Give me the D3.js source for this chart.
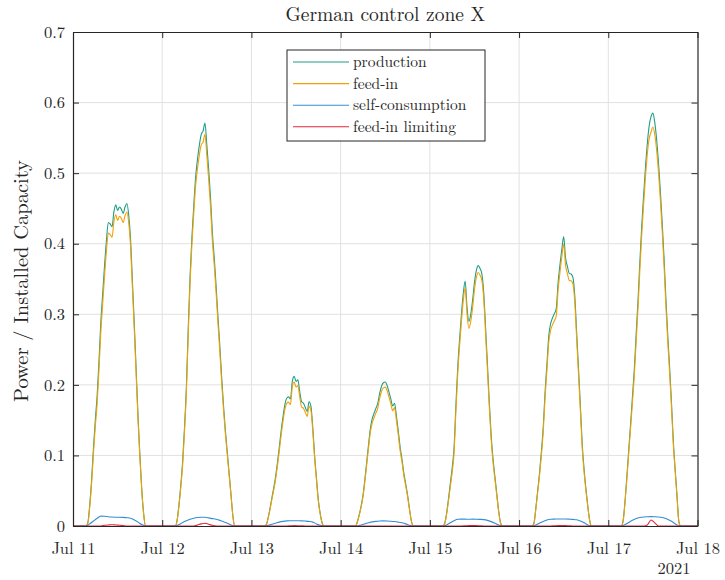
<!DOCTYPE html>
<html>
<head>
<meta charset="utf-8">
<script src="https://cdn.jsdelivr.net/npm/d3@7"></script>
<style>
  html, body { margin: 0; padding: 0; background: #ffffff; }
  svg { display: block; }
  text { font-family: "Latin Modern Roman", "CMU Serif", "Liberation Serif", "Times New Roman", serif; fill: #262626; }
</style>
</head>
<body>
<svg id="chart" width="725" height="580"></svg>
<script>
// ---- chart text ----
const chartTitle = "German control zone X";
const yAxisLabel = "Power / Installed Capacity";
const yearLabel = "2021";

// ---- series ----
const seriesNames = ["production", "feed-in", "self-consumption", "feed-in limiting"];
const seriesColors = ["#1f9e84", "#f2a007", "#2f8fd6", "#e4263a"];

// days shown (UTC), and the intra-day sampling grids in hours
const days = ["2021-07-11", "2021-07-12", "2021-07-13", "2021-07-14", "2021-07-15", "2021-07-16", "2021-07-17"];
const rangeStart = "2021-07-11";
const rangeEnd = "2021-07-18";
const halfHourStart = 3.5, halfHourStep = 0.5;   // production & feed-in: 03:30 .. 19:30
const hourStart = 3.5, hourStep = 1;             // self-consumption & limiting: 03:30 .. 19:30

// normalised production, half-hourly, one row per day
const production = [
  [0, 0.005, 0.03, 0.065, 0.11, 0.15, 0.185, 0.235, 0.29, 0.33, 0.37, 0.405, 0.43, 0.428, 0.424, 0.445, 0.455, 0.447, 0.452, 0.449, 0.443, 0.452, 0.457, 0.44, 0.405, 0.345, 0.285, 0.22, 0.155, 0.1, 0.052, 0.018, 0],
  [0, 0.008, 0.03, 0.058, 0.092, 0.14, 0.197, 0.28, 0.355, 0.41, 0.455, 0.495, 0.52, 0.54, 0.555, 0.56, 0.571, 0.54, 0.505, 0.465, 0.415, 0.38, 0.34, 0.296, 0.255, 0.21, 0.17, 0.135, 0.105, 0.075, 0.045, 0.015, 0],
  [0, 0.002, 0.012, 0.025, 0.04, 0.054, 0.07, 0.09, 0.112, 0.135, 0.155, 0.172, 0.181, 0.183, 0.18, 0.205, 0.212, 0.205, 0.207, 0.19, 0.176, 0.174, 0.168, 0.162, 0.176, 0.17, 0.14, 0.1, 0.068, 0.037, 0.018, 0.005, 0],
  [0, 0, 0.006, 0.016, 0.028, 0.043, 0.065, 0.09, 0.115, 0.138, 0.152, 0.16, 0.167, 0.174, 0.188, 0.198, 0.203, 0.204, 0.199, 0.19, 0.18, 0.17, 0.174, 0.156, 0.135, 0.112, 0.095, 0.075, 0.06, 0.044, 0.025, 0.008, 0],
  [0, 0.004, 0.018, 0.038, 0.06, 0.082, 0.11, 0.17, 0.225, 0.265, 0.3, 0.33, 0.347, 0.31, 0.29, 0.3, 0.32, 0.345, 0.362, 0.369, 0.365, 0.357, 0.33, 0.28, 0.228, 0.175, 0.128, 0.095, 0.07, 0.046, 0.022, 0.005, 0],
  [0, 0.004, 0.025, 0.05, 0.075, 0.105, 0.14, 0.19, 0.23, 0.27, 0.287, 0.295, 0.301, 0.308, 0.345, 0.37, 0.392, 0.41, 0.38, 0.368, 0.358, 0.357, 0.352, 0.325, 0.273, 0.222, 0.17, 0.115, 0.08, 0.052, 0.028, 0.008, 0],
  [0, 0.008, 0.035, 0.07, 0.108, 0.145, 0.183, 0.222, 0.272, 0.32, 0.375, 0.425, 0.468, 0.508, 0.542, 0.567, 0.58, 0.585, 0.572, 0.548, 0.515, 0.475, 0.43, 0.38, 0.322, 0.27, 0.225, 0.175, 0.12, 0.08, 0.042, 0.006, 0]
];

// normalised feed-in, half-hourly
const feedIn = [
  [0, 0.0035, 0.027, 0.06, 0.103, 0.141, 0.174, 0.2225, 0.276, 0.316, 0.355, 0.39, 0.415, 0.413, 0.409, 0.431, 0.441, 0.433, 0.439, 0.436, 0.43, 0.44, 0.445, 0.429, 0.394, 0.335, 0.2765, 0.213, 0.1495, 0.096, 0.05, 0.017, 0],
  [0, 0.007, 0.028, 0.0545, 0.087, 0.134, 0.1895, 0.2715, 0.3455, 0.4, 0.444, 0.483, 0.507, 0.526, 0.54, 0.544, 0.555, 0.525, 0.491, 0.452, 0.4035, 0.3695, 0.3305, 0.287, 0.247, 0.203, 0.164, 0.13, 0.101, 0.072, 0.0435, 0.014, 0],
  [0, 0.0015, 0.011, 0.0232, 0.0375, 0.0508, 0.066, 0.0852, 0.1065, 0.129, 0.1485, 0.1652, 0.1738, 0.1756, 0.172, 0.197, 0.204, 0.197, 0.199, 0.1826, 0.1687, 0.1668, 0.161, 0.1552, 0.1695, 0.164, 0.1345, 0.0958, 0.065, 0.035, 0.017, 0.0045, 0],
  [0, 0, 0.006, 0.0152, 0.0265, 0.0408, 0.062, 0.0862, 0.1105, 0.1328, 0.1462, 0.1538, 0.1604, 0.1672, 0.181, 0.1909, 0.1958, 0.1968, 0.1919, 0.183, 0.1732, 0.1634, 0.1677, 0.1501, 0.1295, 0.107, 0.0905, 0.0712, 0.057, 0.042, 0.024, 0.0075, 0],
  [0, 0.0032, 0.0165, 0.035, 0.0555, 0.076, 0.1025, 0.1615, 0.2155, 0.2553, 0.2902, 0.3202, 0.337, 0.3001, 0.2798, 0.2898, 0.3095, 0.3348, 0.3518, 0.3592, 0.3553, 0.3478, 0.321, 0.2715, 0.22, 0.1679, 0.1218, 0.0899, 0.066, 0.0432, 0.0205, 0.0042, 0],
  [0, 0.0032, 0.0235, 0.0472, 0.071, 0.0998, 0.1335, 0.1825, 0.2215, 0.261, 0.2775, 0.2853, 0.2909, 0.2976, 0.3344, 0.3593, 0.3812, 0.3993, 0.3695, 0.3577, 0.348, 0.3474, 0.3426, 0.3159, 0.2642, 0.2141, 0.163, 0.1092, 0.0755, 0.049, 0.0265, 0.0072, 0],
  [0, 0.007, 0.033, 0.0665, 0.103, 0.1385, 0.175, 0.2128, 0.2615, 0.3088, 0.363, 0.4126, 0.4552, 0.4942, 0.5273, 0.5488, 0.5582, 0.5653, 0.5548, 0.533, 0.5022, 0.4626, 0.418, 0.3688, 0.3115, 0.2608, 0.217, 0.1685, 0.115, 0.0768, 0.0405, 0.0052, 0]
];

// normalised self-consumption, hourly
const selfConsumption = [
  [0, 0.003, 0.007, 0.011, 0.014, 0.0138, 0.0132, 0.0128, 0.0125, 0.0124, 0.0122, 0.0118, 0.011, 0.0085, 0.0055, 0.002, 0],
  [0, 0.002, 0.005, 0.0075, 0.0095, 0.011, 0.012, 0.0125, 0.0123, 0.0115, 0.0105, 0.0095, 0.008, 0.006, 0.004, 0.0015, 0],
  [0, 0.001, 0.0025, 0.004, 0.0055, 0.0065, 0.0072, 0.0075, 0.0075, 0.0074, 0.0073, 0.007, 0.0065, 0.0055, 0.003, 0.001, 0],
  [0, 0, 0.0015, 0.003, 0.0045, 0.0058, 0.0066, 0.007, 0.0072, 0.0071, 0.0068, 0.0063, 0.0055, 0.0045, 0.003, 0.001, 0],
  [0, 0.0015, 0.0045, 0.0075, 0.0095, 0.0098, 0.0097, 0.0096, 0.0097, 0.0096, 0.0094, 0.009, 0.008, 0.0062, 0.004, 0.0015, 0],
  [0, 0.0015, 0.004, 0.0065, 0.0085, 0.0095, 0.0098, 0.01, 0.01, 0.0099, 0.0097, 0.0094, 0.0088, 0.007, 0.0045, 0.0015, 0],
  [0, 0.002, 0.005, 0.008, 0.0105, 0.012, 0.0128, 0.0132, 0.0133, 0.0132, 0.0128, 0.012, 0.0105, 0.008, 0.005, 0.0015, 0]
];

// normalised feed-in limiting, hourly
const feedInLimiting = [
  [0, 0, 0, 0, 0, 0.001, 0.0015, 0.0018, 0.0015, 0.001, 0.0005, 0, 0, 0, 0, 0, 0],
  [0, 0, 0, 0, 0, 0, 0.0015, 0.003, 0.004, 0.0025, 0.001, 0, 0, 0, 0, 0, 0],
  [0, 0, 0, 0, 0, 0, 0, 0.0003, 0.0005, 0.0004, 0.0002, 0, 0, 0, 0, 0, 0],
  [0, 0, 0, 0, 0, 0, 0, 0, 0, 0, 0, 0, 0, 0, 0, 0, 0],
  [0, 0, 0, 0, 0, 0, 0.0003, 0.0006, 0.0008, 0.0006, 0.0003, 0, 0, 0, 0, 0, 0],
  [0, 0, 0, 0, 0, 0, 0.0003, 0.0006, 0.0008, 0.0006, 0.0003, 0, 0, 0, 0, 0, 0],
  [0, 0, 0, 0, 0, 0, 0, 0.0015, 0.0085, 0.0045, 0, 0, 0, 0, 0, 0, 0]
];

// axis ticks
const yTicks = [0, 0.1, 0.2, 0.3, 0.4, 0.5, 0.6, 0.7];
const yTickLabels = ["0", "0.1", "0.2", "0.3", "0.4", "0.5", "0.6", "0.7"];
const xTickLabels = ["Jul 11", "Jul 12", "Jul 13", "Jul 14", "Jul 15", "Jul 16", "Jul 17", "Jul 18"];

// ---- layout ----
const W = 725, H = 580;
const margin = { left: 73, right: 27.5, top: 32, bottom: 54 };
const plotW = W - margin.left - margin.right;
const plotH = H - margin.top - margin.bottom;
const axisColor = "#262626";
const gridColor = "#e1e1e1";
const tickLen = 6;
const tickFont = "16.5px";
const fontStack = '"Latin Modern Roman","CMU Serif","Liberation Serif","Times New Roman",serif';

const svg = d3.select("#chart");
const g = svg.append("g").attr("transform", `translate(${margin.left},${margin.top})`);

const parseDay = d3.utcParse("%Y-%m-%d");
const x = d3.scaleUtc().domain([parseDay(rangeStart), parseDay(rangeEnd)]).range([0, plotW]);
const y = d3.scaleLinear().domain([0, 0.7]).range([plotH, 0]);
const xTicks = d3.utcDay.range(parseDay(rangeStart), d3.utcDay.offset(parseDay(rangeEnd), 1));

// build a continuous time series: zero at night, sampled values in daylight
function buildSeries(rows, start, step) {
  const pts = [{ t: parseDay(rangeStart), v: 0 }];
  rows.forEach((row, d) => {
    const base = parseDay(days[d]).getTime();
    row.forEach((v, i) => pts.push({ t: new Date(base + (start + i * step) * 3600e3), v }));
  });
  pts.push({ t: parseDay(rangeEnd), v: 0 });
  return pts;
}
const seriesData = [
  buildSeries(production, halfHourStart, halfHourStep),
  buildSeries(feedIn, halfHourStart, halfHourStep),
  buildSeries(selfConsumption, hourStart, hourStep),
  buildSeries(feedInLimiting, hourStart, hourStep)
];

// grid
g.append("g").selectAll("line").data(yTicks.slice(1, -1)).join("line")
  .attr("x1", 0).attr("x2", plotW)
  .attr("y1", d => y(d)).attr("y2", d => y(d))
  .attr("stroke", gridColor).attr("stroke-width", 1);
g.append("g").selectAll("line").data(xTicks.slice(1, -1)).join("line")
  .attr("y1", 0).attr("y2", plotH)
  .attr("x1", d => x(d)).attr("x2", d => x(d))
  .attr("stroke", gridColor).attr("stroke-width", 1);

// lines
g.append("clipPath").attr("id", "plotClip").append("rect")
  .attr("x", 0).attr("y", -2).attr("width", plotW).attr("height", plotH + 2);
const line = d3.line().x(d => x(d.t)).y(d => y(d.v)).curve(d3.curveMonotoneX);
const linesG = g.append("g").attr("clip-path", "url(#plotClip)");
seriesData.forEach((pts, i) => {
  linesG.append("path").datum(pts)
    .attr("d", line)
    .attr("fill", "none")
    .attr("stroke", seriesColors[i])
    .attr("stroke-width", 1.1)
    .attr("stroke-linejoin", "round");
});

// axes (ticks pointing inward, on all four sides)
const yLeft = d3.axisLeft(y).tickValues(yTicks).tickFormat((d, i) => yTickLabels[i]).tickSizeInner(-tickLen).tickSizeOuter(0).tickPadding(8);
const yRight = d3.axisRight(y).tickValues(yTicks).tickFormat("").tickSizeInner(-tickLen).tickSizeOuter(0);
const xBottom = d3.axisBottom(x).tickValues(xTicks).tickFormat((d, i) => xTickLabels[i]).tickSizeInner(-tickLen).tickSizeOuter(0).tickPadding(16);
const xTop = d3.axisTop(x).tickValues(xTicks).tickFormat("").tickSizeInner(-tickLen).tickSizeOuter(0);

function styleAxis(sel) {
  sel.select(".domain").attr("stroke", axisColor).attr("stroke-width", 1.2);
  sel.selectAll(".tick line").attr("stroke", axisColor).attr("stroke-width", 1);
  sel.selectAll(".tick text").attr("fill", axisColor).style("font-size", tickFont).style("font-family", fontStack);
}
g.append("g").call(yLeft).call(styleAxis);
g.append("g").attr("transform", `translate(${plotW},0)`).call(yRight).call(styleAxis);
g.append("g").attr("transform", `translate(0,${plotH})`).call(xBottom).call(styleAxis);
g.append("g").call(xTop).call(styleAxis);

// year under the last tick
g.append("text").attr("x", plotW - 7).attr("y", plotH + 48)
  .attr("text-anchor", "end").style("font-size", tickFont).text(yearLabel);

// title
svg.append("text").attr("x", margin.left + plotW / 2).attr("y", 20.5)
  .attr("text-anchor", "middle").style("font-size", "19.5px").text(chartTitle);

// y label
svg.append("text")
  .attr("transform", `translate(28,${margin.top + plotH / 2 + 2}) rotate(-90)`)
  .attr("text-anchor", "middle").style("font-size", "20.5px").text(yAxisLabel);

// legend
const legend = svg.append("g").attr("transform", "translate(287,50)");
legend.append("rect").attr("x", 0).attr("y", 0).attr("width", 198).attr("height", 91)
  .attr("fill", "#ffffff").attr("stroke", axisColor).attr("stroke-width", 1);
seriesNames.forEach((name, i) => {
  const cy = 12 + i * 21.6;
  legend.append("line").attr("x1", 6).attr("x2", 62).attr("y1", cy).attr("y2", cy)
    .attr("stroke", seriesColors[i]).attr("stroke-width", 1.1);
  legend.append("text").attr("x", 66).attr("y", cy).attr("dy", "0.33em")
    .style("font-size", "15.5px").text(name);
});
</script>
</body>
</html>
